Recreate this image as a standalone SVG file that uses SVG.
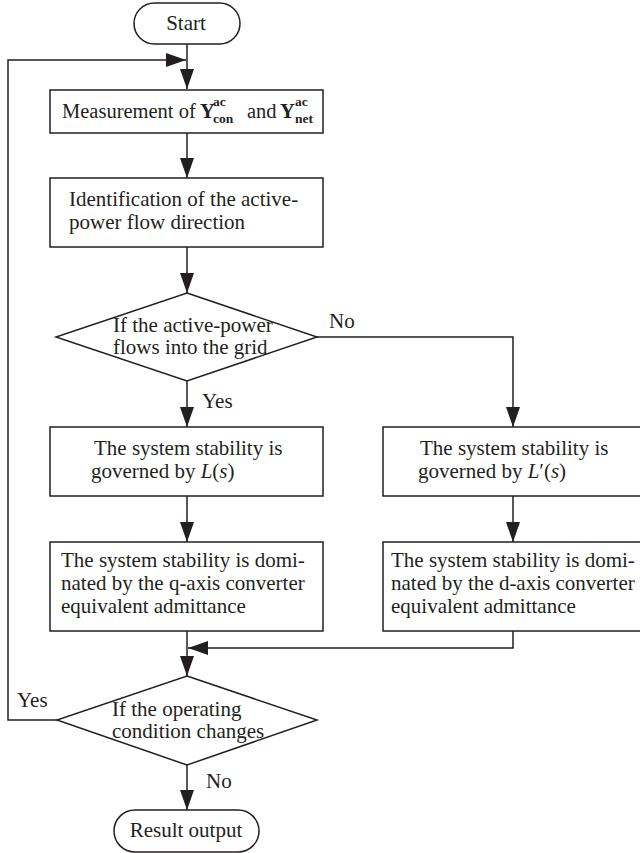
<svg xmlns="http://www.w3.org/2000/svg" width="640" height="853" viewBox="0 0 640 853">
<style>
  .s { fill: #fff; stroke: #231f20; stroke-width: 1.5; }
  .c { fill: none; stroke: #231f20; stroke-width: 1.5; }
  text { font-family: "Liberation Serif", "Times New Roman", serif; font-size: 21px; fill: #231f20; }
  .m { font-size: 20.5px; }
  .b { font-weight: bold; }
  .sm { font-size: 13.5px; font-weight: bold; }
  .i { font-style: italic; }
</style>
<defs>
  <marker id="arr" viewBox="0 0 20 14" refX="20" refY="7" markerWidth="20" markerHeight="14" markerUnits="userSpaceOnUse" orient="auto">
    <path d="M0,0 L20,7 L0,14 Z" fill="#231f20"/>
  </marker>
</defs>

<g id="connectors">
  <path class="c" d="M187,44 V89" marker-end="url(#arr)"/>
  <path class="c" d="M57,720 H8 V60 H186" marker-end="url(#arr)"/>
  <path class="c" d="M187,133 V178" marker-end="url(#arr)"/>
  <path class="c" d="M187,247 V293" marker-end="url(#arr)"/>
  <path class="c" d="M187,381 V427" marker-end="url(#arr)"/>
  <path class="c" d="M317,337 H513 V427" marker-end="url(#arr)"/>
  <path class="c" d="M187,496 V542" marker-end="url(#arr)"/>
  <path class="c" d="M513,496 V542" marker-end="url(#arr)"/>
  <path class="c" d="M187,631 V676" marker-end="url(#arr)"/>
  <path class="c" d="M513,631 V648 H188" marker-end="url(#arr)"/>
  <path class="c" d="M187,765 V810" marker-end="url(#arr)"/>
  <text x="329" y="328">No</text>
  <text x="202" y="408">Yes</text>
  <text x="17" y="707">Yes</text>
  <text x="206" y="788">No</text>
</g>

<g id="start">
  <rect class="s" x="134" y="3" width="106" height="41" rx="20.5"/>
  <text x="186" y="30" text-anchor="middle">Start</text>
</g>

<g id="measure">
  <rect class="s" x="50" y="90" width="273" height="43"/>
  <text class="m" x="62" y="118">Measurement of</text>
  <text class="m b" x="200" y="118">Y</text>
  <text class="sm" x="213" y="106">ac</text>
  <text class="sm" x="213" y="123">con</text>
  <text class="m" x="247" y="118">and</text>
  <text class="m b" x="280" y="118">Y</text>
  <text class="sm" x="295" y="106">ac</text>
  <text class="sm" x="295" y="123">net</text>
</g>

<g id="identify">
  <rect class="s" x="50" y="178" width="273" height="69"/>
  <text x="69" y="206">Identification of the active-</text>
  <text x="69" y="229">power flow direction</text>
</g>

<g id="decision1">
  <polygon class="s" points="187,293 317,337 187,381 56,337"/>
  <text x="113" y="332">If the active-power</text>
  <text x="113" y="354">flows into the grid</text>
</g>

<g id="governedL">
  <rect class="s" x="50" y="427" width="273" height="69"/>
  <text x="94" y="455">The system stability is</text>
  <text x="91" y="478">governed by <tspan class="i">L</tspan>(<tspan class="i">s</tspan>)</text>
</g>

<g id="governedLp">
  <rect class="s" x="383" y="427" width="260" height="69"/>
  <text x="420" y="455">The system stability is</text>
  <text x="418" y="478">governed by <tspan class="i">L</tspan>′(<tspan class="i">s</tspan>)</text>
</g>

<g id="qaxis">
  <rect class="s" x="50" y="542" width="273" height="89"/>
  <text x="61" y="567">The system stability is domi-</text>
  <text x="61" y="590">nated by the q-axis converter</text>
  <text x="61" y="613">equivalent admittance</text>
</g>

<g id="daxis">
  <rect class="s" x="383" y="542" width="260" height="89"/>
  <text x="391" y="567">The system stability is domi-</text>
  <text x="391" y="590">nated by the d-axis converter</text>
  <text x="391" y="613">equivalent admittance</text>
</g>

<g id="decision2">
  <polygon class="s" points="187,676 317,720 187,765 57,720"/>
  <text x="112" y="716">If the operating</text>
  <text x="112" y="738">condition changes</text>
</g>

<g id="result">
  <rect class="s" x="114" y="810" width="145" height="42" rx="21"/>
  <text x="186" y="837" text-anchor="middle">Result output</text>
</g>
</svg>
